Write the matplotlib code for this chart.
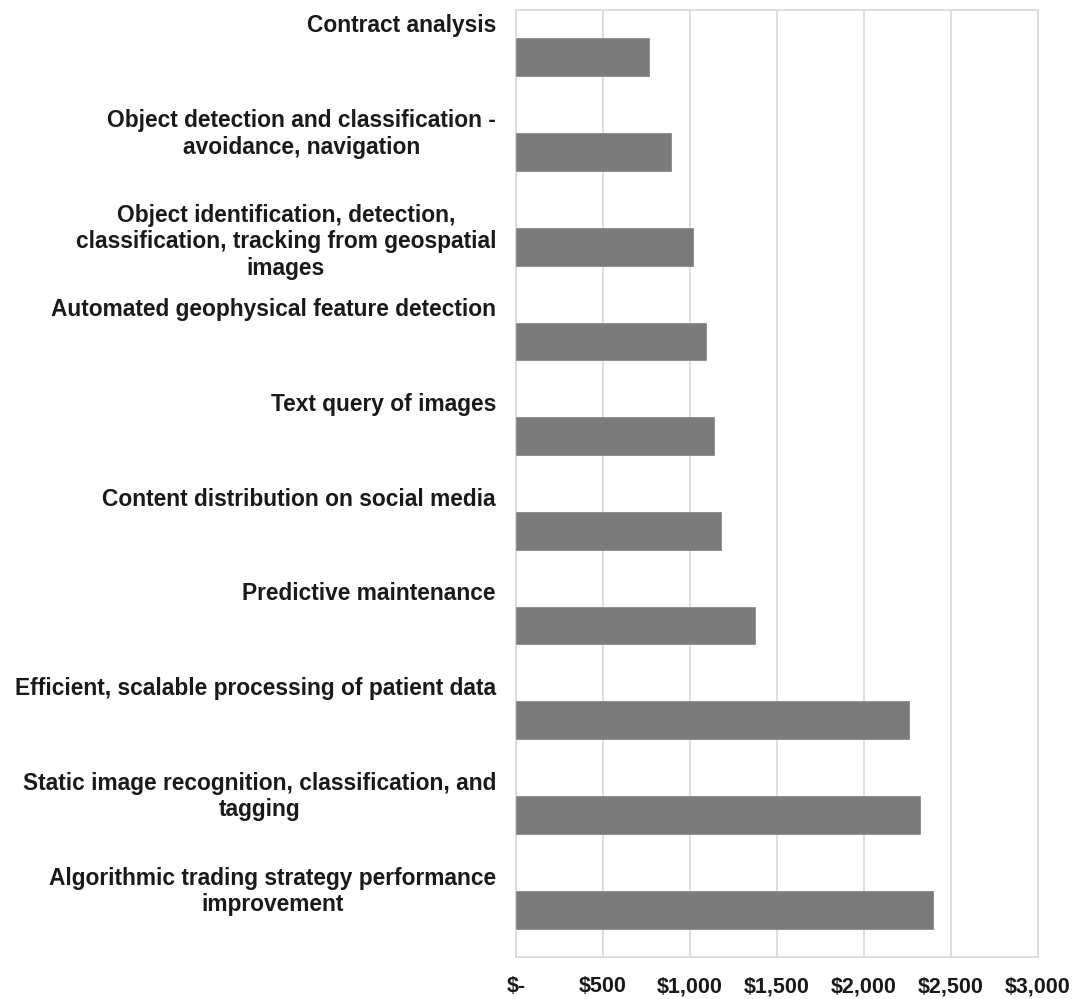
import matplotlib
matplotlib.use('Agg')
import matplotlib.pyplot as plt
from matplotlib.transforms import blended_transform_factory

# Annual value per use case (USD), top to bottom
use_cases = [
    'Contract analysis',
    'Object detection and classification -\navoidance, navigation',
    'Object identification, detection,\nclassification, tracking from geospatial\nimages',
    'Automated geophysical feature detection',
    'Text query of images',
    'Content distribution on social media',
    'Predictive maintenance',
    'Efficient, scalable processing of patient data',
    'Static image recognition, classification, and\ntagging',
    'Algorithmic trading strategy performance\nimprovement',
]
values = [767, 893, 1015, 1092, 1138, 1176, 1372, 2261, 2322, 2394]
x_ticks = [0, 500, 1000, 1500, 2000, 2500, 3000]
x_tick_labels = ['$-', '$500', '$1,000', '$1,500', '$2,000', '$2,500', '$3,000']

plt.rcParams['font.family'] = ['Liberation Sans', 'DejaVu Sans']
plt.rcParams['font.weight'] = 'bold'

fig = plt.figure(figsize=(10.8, 9.99), dpi=100)
ax = fig.add_axes([516 / 1080, 1 - 957 / 999, 522 / 1080, 947 / 999])

pos = list(range(len(values)))
ax.barh(pos, values, height=0.4, color='#7b7b7b', edgecolor='#8a8a8a',
        linewidth=0.6, zorder=3)

ax.set_xlim(0, 3000)
ax.set_ylim(len(values) - 0.5, -0.5)
ax.set_xticks(x_ticks)
ax.set_xticklabels(x_tick_labels, fontsize=15.5, fontweight='bold', color='#1a1a1a',
                   va='baseline')
ax.set_yticks([])
ax.tick_params(axis='x', length=0, pad=25.5)

ax.grid(axis='x', color='#d9d9d9', linewidth=1.2, zorder=0)
for s in ax.spines.values():
    s.set_color('#d9d9d9')
    s.set_linewidth(1.2)

# category labels sit above each bar, right-aligned left of the plot area
trans = blended_transform_factory(fig.transFigure, ax.transData)
for i, name in enumerate(use_cases):
    ax.text(496 / 1080, i - 0.5 + 0.045, name, transform=trans,
            ha='right', va='top', multialignment='center',
            fontsize=16.4, fontweight='bold', color='#1a1a1a',
            linespacing=1.2)

fig.savefig('out.png', dpi=100)
